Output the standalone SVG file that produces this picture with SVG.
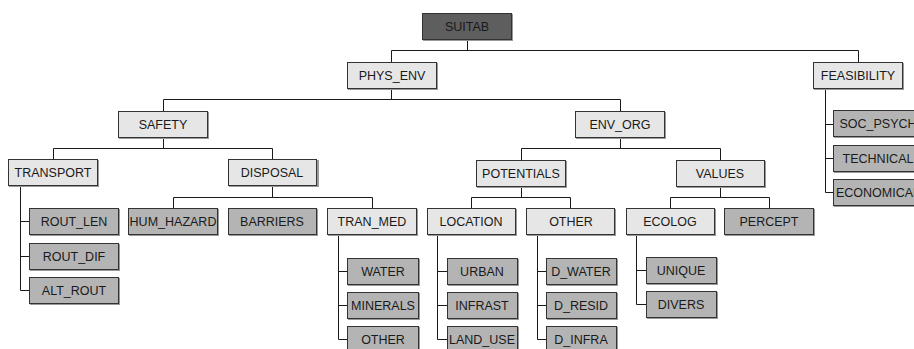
<svg xmlns="http://www.w3.org/2000/svg" width="914" height="349" viewBox="0 0 914 349">
<style>
rect{stroke:#333;stroke-width:1}
.bg{fill:#fff;stroke:none}
.l{fill:#e6e6e6}
.m{fill:#b4b4b4}
.d{fill:#5e5e5e}
.sh{fill:#999;stroke:none}
text{font-family:"Liberation Sans",Arial,sans-serif;font-size:12.5px;fill:#1a1a1a;text-anchor:middle}
#conn path{fill:none;stroke:#1a1a1a;stroke-width:1}
</style>
<rect class="bg" width="914" height="349"/>
<g id="conn">
<path d="M467.5 39V50.5M391.5 62V50.5H858.5V62"/>
<path d="M391.5 88V99.5M163.5 111V99.5H620.5V111"/>
<path d="M163.5 137V148.5M53.5 159V148.5H272.5V159"/>
<path d="M620.5 137V148.5M521.5 160V148.5H720.5V160"/>
<path d="M272.5 186V197.5M173.5 208V197.5H372.5V208"/>
<path d="M521.5 186V197.5M471.5 208V197.5H570.5V208"/>
<path d="M720.5 186V197.5M670.5 208V197.5H769.5V208"/>
<path d="M20.5 186V290.5H29M20.5 221.5H29M20.5 256.5H29"/>
<path d="M338.5 234V339.5H347M338.5 271.5H347M338.5 305.5H347"/>
<path d="M437.5 234V339.5H447M437.5 271.5H447M437.5 305.5H447"/>
<path d="M537.5 234V339.5H546M537.5 271.5H546M537.5 305.5H546"/>
<path d="M636.5 234V304.5H646M636.5 270.5H646"/>
<path d="M825.5 88V192.5H833M825.5 124.5H833M825.5 158.5H833"/>
</g>
<g id="suitab"><rect class="sh" x="423" y="14" width="90" height="27"/><rect class="d" x="422.5" y="13.5" width="89" height="26"/><text x="467" y="31">SUITAB</text></g>
<g id="phys_env"><rect class="sh" x="348" y="63" width="90" height="27"/><rect class="l" x="347.5" y="62.5" width="89" height="26"/><text x="392" y="80">PHYS_ENV</text></g>
<g id="feasibility"><rect class="sh" x="814" y="63" width="90" height="27"/><rect class="l" x="813.5" y="62.5" width="89" height="26"/><text x="858" y="80">FEASIBILITY</text></g>
<g id="safety"><rect class="sh" x="119" y="112" width="90" height="27"/><rect class="l" x="118.5" y="111.5" width="89" height="26"/><text x="163" y="129">SAFETY</text></g>
<g id="env_org"><rect class="sh" x="576" y="112" width="90" height="27"/><rect class="l" x="575.5" y="111.5" width="89" height="26"/><text x="620" y="129">ENV_ORG</text></g>
<g id="transport"><rect class="sh" x="9" y="160" width="90" height="27"/><rect class="l" x="8.5" y="159.5" width="89" height="26"/><text x="53" y="177">TRANSPORT</text></g>
<g id="disposal"><rect class="sh" x="229" y="160" width="90" height="27"/><rect class="l" x="228.5" y="159.5" width="88" height="26"/><text x="272" y="177">DISPOSAL</text></g>
<g id="potentials"><rect class="sh" x="477" y="161" width="90" height="27"/><rect class="l" x="476.5" y="160.5" width="89" height="26"/><text x="521" y="178">POTENTIALS</text></g>
<g id="values"><rect class="sh" x="677" y="161" width="89" height="27"/><rect class="l" x="676.5" y="160.5" width="88" height="26"/><text x="720" y="178">VALUES</text></g>
<g id="hum_hazard"><rect class="sh" x="129" y="209" width="90" height="27"/><rect class="m" x="128.5" y="208.5" width="89" height="26"/><text x="173" y="226">HUM_HAZARD</text></g>
<g id="barriers"><rect class="sh" x="229" y="209" width="89" height="27"/><rect class="m" x="228.5" y="208.5" width="88" height="26"/><text x="272" y="226">BARRIERS</text></g>
<g id="tran_med"><rect class="sh" x="328" y="209" width="90" height="27"/><rect class="l" x="327.5" y="208.5" width="89" height="26"/><text x="372" y="226">TRAN_MED</text></g>
<g id="location"><rect class="sh" x="428" y="209" width="89" height="27"/><rect class="l" x="427.5" y="208.5" width="88" height="26"/><text x="471" y="226">LOCATION</text></g>
<g id="other_pot"><rect class="sh" x="527" y="209" width="89" height="27"/><rect class="l" x="526.5" y="208.5" width="88" height="26"/><text x="571" y="226">OTHER</text></g>
<g id="ecolog"><rect class="sh" x="627" y="209" width="89" height="27"/><rect class="l" x="626.5" y="208.5" width="88" height="26"/><text x="670" y="226">ECOLOG</text></g>
<g id="percept"><rect class="sh" x="725" y="209" width="90" height="27"/><rect class="m" x="724.5" y="208.5" width="89" height="26"/><text x="769" y="226">PERCEPT</text></g>
<g id="rout_len"><rect class="sh" x="30" y="209" width="90" height="27"/><rect class="m" x="29.5" y="208.5" width="89" height="26"/><text x="74" y="226">ROUT_LEN</text></g>
<g id="rout_dif"><rect class="sh" x="30" y="244" width="90" height="27"/><rect class="m" x="29.5" y="243.5" width="89" height="26"/><text x="74" y="261">ROUT_DIF</text></g>
<g id="alt_rout"><rect class="sh" x="30" y="278" width="90" height="27"/><rect class="m" x="29.5" y="277.5" width="89" height="26"/><text x="74" y="295">ALT_ROUT</text></g>
<g id="water"><rect class="sh" x="348" y="259" width="72" height="27"/><rect class="m" x="347.5" y="258.5" width="71" height="26"/><text x="383" y="276">WATER</text></g>
<g id="minerals"><rect class="sh" x="348" y="293" width="72" height="27"/><rect class="m" x="347.5" y="292.5" width="71" height="26"/><text x="383" y="310">MINERALS</text></g>
<g id="other_med"><rect class="sh" x="348" y="327" width="72" height="27"/><rect class="m" x="347.5" y="326.5" width="71" height="26"/><text x="383" y="344">OTHER</text></g>
<g id="urban"><rect class="sh" x="448" y="259" width="71" height="27"/><rect class="m" x="447.5" y="258.5" width="70" height="26"/><text x="482" y="276">URBAN</text></g>
<g id="infrast"><rect class="sh" x="448" y="293" width="71" height="27"/><rect class="m" x="447.5" y="292.5" width="70" height="26"/><text x="482" y="310">INFRAST</text></g>
<g id="land_use"><rect class="sh" x="448" y="327" width="71" height="27"/><rect class="m" x="447.5" y="326.5" width="70" height="26"/><text x="482" y="344">LAND_USE</text></g>
<g id="d_water"><rect class="sh" x="547" y="259" width="71" height="27"/><rect class="m" x="546.5" y="258.5" width="70" height="26"/><text x="581" y="276">D_WATER</text></g>
<g id="d_resid"><rect class="sh" x="547" y="293" width="71" height="27"/><rect class="m" x="546.5" y="292.5" width="70" height="26"/><text x="581" y="310">D_RESID</text></g>
<g id="d_infra"><rect class="sh" x="547" y="327" width="71" height="27"/><rect class="m" x="546.5" y="326.5" width="70" height="26"/><text x="581" y="344">D_INFRA</text></g>
<g id="unique"><rect class="sh" x="647" y="258" width="71" height="27"/><rect class="m" x="646.5" y="257.5" width="70" height="26"/><text x="681" y="275">UNIQUE</text></g>
<g id="divers"><rect class="sh" x="647" y="292" width="71" height="27"/><rect class="m" x="646.5" y="291.5" width="70" height="26"/><text x="681" y="309">DIVERS</text></g>
<g id="soc_psych"><rect class="sh" x="834" y="111" width="90" height="27"/><rect class="m" x="833.5" y="110.5" width="89" height="26"/><text x="878" y="128">SOC_PSYCH</text></g>
<g id="technical"><rect class="sh" x="834" y="146" width="90" height="27"/><rect class="m" x="833.5" y="145.5" width="89" height="26"/><text x="878" y="163">TECHNICAL</text></g>
<g id="economical"><rect class="sh" x="834" y="180" width="90" height="27"/><rect class="m" x="833.5" y="179.5" width="89" height="26"/><text x="878" y="197">ECONOMICAL</text></g>
</svg>
